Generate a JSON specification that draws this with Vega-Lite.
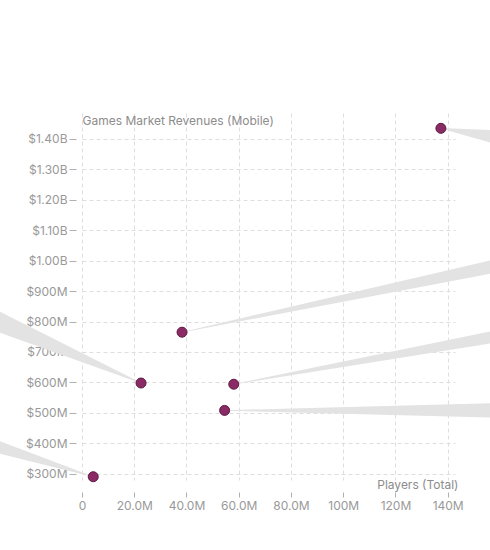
{
  "$schema": "https://vega.github.io/schema/vega-lite/v6.json",
  "width": 373,
  "height": 367,
  "autosize": {"type": "none"},
  "padding": {"left": 82, "top": 113, "right": 35, "bottom": 70},
  "background": "white",
  "config": {"view": {"stroke": null}, "font": "Inter"},
  "datasets": {
    "games": [
      {"id": "F", "players": 4300000, "revenue": 290000000},
      {"id": "E", "players": 22600000, "revenue": 598000000},
      {"id": "A", "players": 38300000, "revenue": 765000000},
      {"id": "C", "players": 54600000, "revenue": 508000000},
      {"id": "B", "players": 58100000, "revenue": 594000000},
      {"id": "D", "players": 137400000, "revenue": 1435000000}
    ],
    "callouts": [
      {"id": "A", "t": 0, "players": 38300000, "revenue": 765000000},
      {"id": "A", "t": 1, "players": 319200000, "revenue": 1274800000},
      {"id": "B", "t": 0, "players": 58100000, "revenue": 594000000},
      {"id": "B", "t": 1, "players": 311900000, "revenue": 991500000},
      {"id": "C", "t": 0, "players": 54600000, "revenue": 508000000},
      {"id": "C", "t": 1, "players": 272300000, "revenue": 507500000},
      {"id": "D", "t": 0, "players": 137400000, "revenue": 1435000000},
      {"id": "D", "t": 1, "players": 184300000, "revenue": 1371700000},
      {"id": "E", "t": 0, "players": 22600000, "revenue": 598000000},
      {"id": "E", "t": 1, "players": -62600000, "revenue": 912000000},
      {"id": "F", "t": 0, "players": 4300000, "revenue": 290000000},
      {"id": "F", "t": 1, "players": -88100000, "revenue": 538300000}
    ]
  },
  "encoding": {
    "x": {
      "field": "players",
      "type": "quantitative",
      "scale": {"domain": [0, 142800000], "nice": false, "zero": false},
      "axis": {
        "title": "Players (Total)",
        "values": [0, 20000000, 40000000, 60000000, 80000000, 100000000, 120000000, 140000000],
        "labelExpr": "datum.value == 0 ? '0' : format(datum.value, '.3s')",
        "grid": true,
        "gridDash": [4, 3],
        "gridColor": "#dedede",
        "domain": false,
        "offset": 12,
        "tickSize": 5,
        "tickColor": "#b0b0b0",
        "labelColor": "#999999",
        "labelFontSize": 12,
        "labelPadding": 3,
        "labelFlush": false,
        "labelOverlap": false,
        "titleX": 376,
        "titleY": -8,
        "titleAlign": "right",
        "titleBaseline": "middle",
        "titleFontWeight": "normal",
        "titleFontSize": 12,
        "titleColor": "#8c8c8c"
      }
    },
    "y": {
      "field": "revenue",
      "type": "quantitative",
      "scale": {"domain": [279300000, 1485400000], "nice": false, "zero": false},
      "axis": {
        "title": "Games Market Revenues (Mobile)",
        "values": [300000000, 400000000, 500000000, 600000000, 700000000, 800000000, 900000000, 1000000000, 1100000000, 1200000000, 1300000000, 1400000000],
        "tickCount": 12,
        "labelExpr": "datum.value >= 1e9 ? '$' + format(datum.value / 1e9, '.2f') + 'B' : '$' + format(datum.value / 1e6, 'd') + 'M'",
        "grid": true,
        "gridDash": [4, 3],
        "gridColor": "#dedede",
        "domain": false,
        "offset": 6,
        "tickSize": 7,
        "tickColor": "#b0b0b0",
        "labelColor": "#999999",
        "labelFontSize": 12,
        "labelPadding": 2,
        "labelOverlap": false,
        "labelSeparation": 0,
        "titleAngle": 0,
        "titleX": 6,
        "titleY": 7,
        "titleAlign": "left",
        "titleBaseline": "middle",
        "titleFontWeight": "normal",
        "titleFontSize": 12,
        "titleColor": "#8c8c8c"
      }
    }
  },
  "layer": [
    {
      "data": {"name": "callouts"},
      "mark": {"type": "trail", "color": "#e3e3e3", "clip": false},
      "encoding": {
        "size": {
          "field": "t",
          "type": "quantitative",
          "scale": {"domain": [0, 1], "range": [0.5, 30]},
          "legend": null
        },
        "detail": {"field": "id"},
        "order": {"field": "t"}
      }
    },
    {
      "data": {"name": "games"},
      "mark": {"type": "circle", "size": 100, "fill": "#8b2b65", "stroke": "#5b1a42", "strokeWidth": 1, "opacity": 1}
    }
  ]
}
